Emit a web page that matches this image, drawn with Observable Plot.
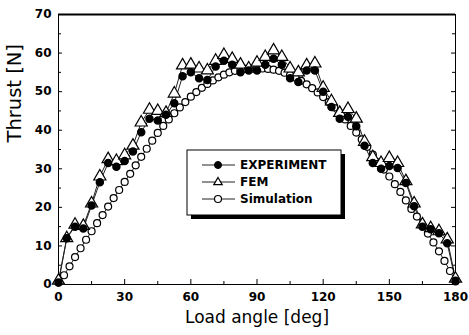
<!DOCTYPE html>
<html><head><meta charset="utf-8">
<script src="https://cdn.jsdelivr.net/npm/d3@7"></script>
<script src="https://cdn.jsdelivr.net/npm/@observablehq/plot@0.6"></script>
<style>
body{margin:0;background:#fff;}
#wrap{position:relative;width:469px;height:335px;}
#legend{position:absolute;left:0;top:0;pointer-events:none;}
</style></head><body><div id="wrap"></div>
<script>
// measured angles (deg)
const measAngles = [0,3.75,7.5,11.25,15,18.75,22.5,26.25,30,33.75,37.5,41.25,45,48.75,52.5,56.25,60,63.75,67.5,71.25,75,78.75,82.5,86.25,90,93.75,97.5,101.25,105,108.75,112.5,116.25,120,123.75,127.5,131.25,135,138.75,142.5,146.25,150,153.75,157.5,161.25,165,168.75,172.5,176.25,180];
const experiment = [0.5,12,15,14.5,20.5,26.5,31.5,30.5,32,34.5,39.5,43,42.5,44,47,54,55,53.5,53,56.5,58,57,55,55.5,55.5,57,58.5,57,53.5,52.5,55.5,55.5,50,46,43,43.5,41,36,31.5,30,30.7,30.2,26.3,20.3,15,14.3,13.3,10.7,1];
const fem = [1,12,15.5,15.2,21,28,32.5,32,33.5,36,42,45.3,45,44.5,49.5,56.8,57,56,55.5,58,59.5,58.5,57,56,57.5,59,60.7,59,56,55,56.8,57.3,51,47.5,44.5,45.5,43,37,33,31.5,32.8,31.5,26.8,21,15.6,14.6,13.8,11.7,1.5];
const simAngles = [0,2.5,5,7.5,10,12.5,15,17.5,20,22.5,25,27.5,30,32.5,35,37.5,40,42.5,45,47.5,50,52.5,55,57.5,60,62.5,65,67.5,70,72.5,75,77.5,80,82.5,85,87.5,90,92.5,95,97.5,100,102.5,105,107.5,110,112.5,115,117.5,120,122.5,125,127.5,130,132.5,135,137.5,140,142.5,145,147.5,150,152.5,155,157.5,160,162.5,165,167.5,170,172.5,175,177.5,180];
const simulation = [0.5,2.4,4.7,7.1,9.4,11.6,13.8,15.9,18.0,20.2,22.4,24.5,26.6,28.7,30.9,33.1,35.2,37.3,39.3,41.1,42.8,44.4,45.9,47.3,48.7,49.9,51.0,52.0,52.9,53.7,54.4,55.0,55.4,55.7,55.9,56.0,56.0,56.0,55.9,55.7,55.4,54.9,54.3,53.6,52.8,51.9,50.9,49.8,48.6,47.3,45.9,44.4,42.8,41.1,39.4,37.6,35.7,33.7,31.7,29.8,28.0,26.0,24.0,21.8,19.6,17.6,15.4,13.2,10.9,8.6,6.1,3.5,0.8];
const xTicks = [0,30,60,90,120,150,180];
const xMinorTicks = [15,45,75,105,135,165];
const yTicks = [0,10,20,30,40,50,60,70];
const yMinorTicks = [5,15,25,35,45,55,65];
const legendLabels = ["EXPERIMENT","FEM","Simulation"];

const expData = measAngles.map((a,i)=>({a, v: experiment[i]}));
const femData = measAngles.map((a,i)=>({a, v: fem[i]}));
const simData = simAngles.map((a,i)=>({a, v: simulation[i]}));

const W = 469, H = 335, mL = 58, mR = 14, mT = 14, mB = 51;
const iw = W - mL - mR, ih = H - mT - mB;
const font = "DejaVu Sans";

const chart = Plot.plot({
  width: W, height: H,
  marginLeft: mL, marginRight: mR, marginTop: mT, marginBottom: mB,
  x: {domain: [0, 180]},
  y: {domain: [0, 70]},
  style: {fontFamily: font, background: "white", color: "black", overflow: "visible"},
  marks: [
    Plot.frame({stroke: "black", strokeWidth: 1}),
    Plot.ruleY([yTicks[yTicks.length-1]], {stroke: "black", strokeWidth: 2}),
    Plot.tickY(yTicks, {y: d => d, insetRight: iw - 4, stroke: "black"}),
    Plot.tickY(yMinorTicks, {y: d => d, insetRight: iw - 3, stroke: "black"}),
    Plot.tickY(yTicks, {y: d => d, insetLeft: iw - 4, stroke: "black"}),
    Plot.tickY(yMinorTicks, {y: d => d, insetLeft: iw - 3, stroke: "black"}),
    Plot.tickX(xTicks, {x: d => d, insetTop: ih - 5, stroke: "black"}),
    Plot.tickX(xMinorTicks, {x: d => d, insetTop: ih - 3, stroke: "black"}),
    Plot.axisX(xTicks, {tickSize: 0, tickPadding: 8, fontSize: 12, fontWeight: "bold", label: null}),
    Plot.axisY(yTicks, {tickSize: 0, tickPadding: 7, fontSize: 12, fontWeight: "bold", label: null}),
    Plot.text(["Load angle [deg]"], {frameAnchor: "bottom", dy: 38, fontSize: 17, fill: "black"}),
    Plot.text(["Thrust [N]"], {frameAnchor: "left", dx: -44, dy: -7, rotate: -90, fontSize: 19.5, fill: "black"}),
    Plot.line(simData, {x: "a", y: "v", stroke: "#222", strokeWidth: 1}),
    Plot.line(femData, {x: "a", y: "v", stroke: "#222", strokeWidth: 1}),
    Plot.line(expData, {x: "a", y: "v", stroke: "#222", strokeWidth: 1}),
    Plot.dot(simData, {x: "a", y: "v", r: 3.5, fill: "white", stroke: "black", strokeWidth: 1.2}),
    Plot.dot(femData, {x: "a", y: "v", r: 4.5, symbol: "triangle", fill: "white", stroke: "black", strokeWidth: 1.2}),
    Plot.dot(expData, {x: "a", y: "v", r: 3.5, fill: "black", stroke: "black"})
  ]
});
const wrap = document.getElementById("wrap");
wrap.appendChild(chart);

// legend overlay
const ns = "http://www.w3.org/2000/svg";
const lg = document.createElementNS(ns, "svg");
lg.setAttribute("id", "legend");
lg.setAttribute("width", W); lg.setAttribute("height", H);
const bx = 187, by = 150, bw = 154, bh = 65;
lg.innerHTML = `
  <rect x="${bx+4}" y="${by+4}" width="${bw}" height="${bh}" fill="black"/>
  <rect x="${bx}" y="${by}" width="${bw}" height="${bh}" fill="white" stroke="black" stroke-width="1"/>`;
const rowsY = [165, 182, 199];
legendLabels.forEach((lab, i) => {
  const y = rowsY[i];
  let sym;
  if (i === 0) sym = `<circle cx="218" cy="${y}" r="3.5" fill="black" stroke="black"/>`;
  else if (i === 1) sym = `<path d="M218,${y-4.5} L222.2,${y+2.6} L213.8,${y+2.6} Z" fill="white" stroke="black" stroke-width="1.2"/>`;
  else sym = `<circle cx="218" cy="${y}" r="3.5" fill="white" stroke="black" stroke-width="1.2"/>`;
  lg.innerHTML += `<line x1="202" x2="235" y1="${y}" y2="${y}" stroke="#222" stroke-width="1"/>${sym}
    <text x="240" y="${y}" dy="0.36em" font-family="${font}" font-size="12" font-weight="bold" fill="black">${lab}</text>`;
});
wrap.appendChild(lg);
</script>
</body></html>
